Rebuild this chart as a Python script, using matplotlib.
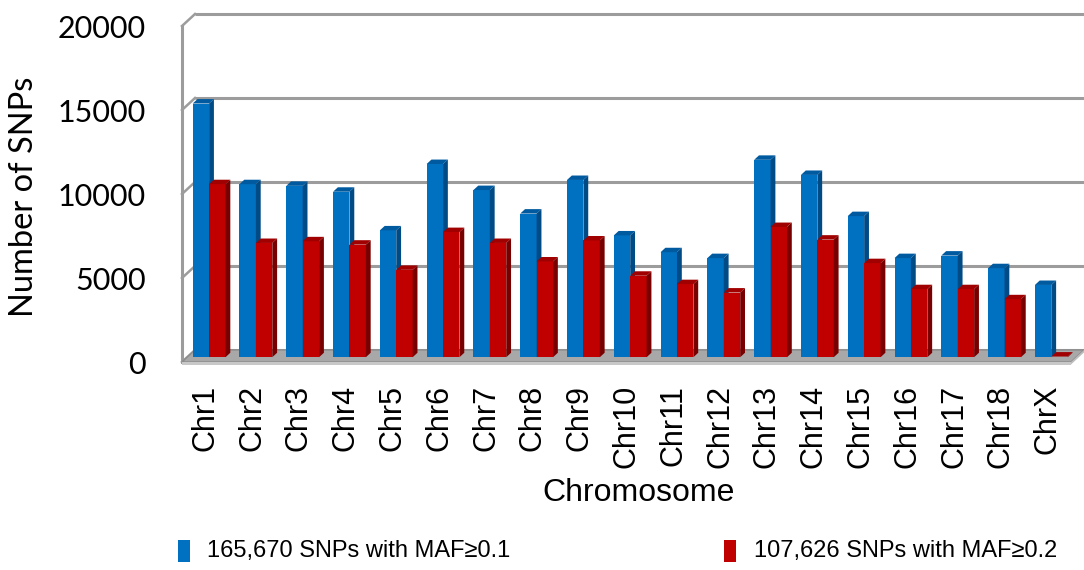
import matplotlib
matplotlib.use("Agg")
import matplotlib.pyplot as plt
from matplotlib.patches import Polygon
from matplotlib import font_manager

categories = ["Chr1", "Chr2", "Chr3", "Chr4", "Chr5", "Chr6", "Chr7", "Chr8", "Chr9",
              "Chr10", "Chr11", "Chr12", "Chr13", "Chr14", "Chr15", "Chr16", "Chr17",
              "Chr18", "ChrX"]
maf01 = [15100, 10300, 10200, 9850, 7550, 11500, 9950, 8550, 10550,
         7250, 6250, 5900, 11750, 10850, 8400, 5900, 6050, 5300, 4300]
maf02 = [10300, 6800, 6900, 6700, 5200, 7450, 6800, 5700, 6950,
         4850, 4350, 3850, 7750, 7000, 5600, 4050, 4050, 3450, 40]
series_labels = ["165,670 SNPs with MAF≥0.1", "107,626 SNPs with MAF≥0.2"]
yticks = [0, 5000, 10000, 15000, 20000]

W, H = 1084, 570
fig = plt.figure(figsize=(W / 100, H / 100), dpi=100)

# front plane geometry (pixels)
x_left, x_right_front, y_zero, y_top = 182, 1071, 362, 13
n = len(categories)
px_per_cat = (x_right_front - x_left) / n
px_per_val = 84 / 5000
ax = fig.add_axes([x_left / W, (H - y_zero) / H, (W - x_left) / W, (y_zero - y_top) / H])
ax.set_xlim(0, (W - x_left) / px_per_cat)
ax.set_ylim(0, (y_zero - y_top) / px_per_val)
for s in ax.spines.values():
    s.set_visible(False)

# depth of wall (full) in data units
DX = 13 / px_per_cat
DY = 12 / px_per_val

grid_c = "#9C9C9C"
# back wall gridlines and side wall diagonals
for v in yticks:
    ax.plot([DX, n + DX], [v + DY, v + DY], color=grid_c, lw=2.2, clip_on=False, zorder=1,
            solid_capstyle="butt")
    ax.plot([0, DX], [v, v + DY], color=grid_c, lw=1.8, clip_on=False, zorder=1)
ax.plot([0, 0], [0, yticks[-1]], color=grid_c, lw=2.2, clip_on=False, zorder=1)

# floor
floor = Polygon([[0, 0], [n, 0], [n + DX, DY], [DX, DY]], closed=True,
                facecolor="#A8A8A8", edgecolor="#8C8C8C", lw=1.0, clip_on=False, zorder=2)
ax.add_patch(floor)
slab_h = 2.5 / px_per_val
ax.add_patch(Polygon([[0, 0], [n, 0], [n, -slab_h], [0, -slab_h]], closed=True,
                     facecolor="#C8C8C8", edgecolor="none", clip_on=False, zorder=2))
ax.add_patch(Polygon([[n, 0], [n + DX, DY], [n + DX, DY - slab_h], [n, -slab_h]], closed=True,
                     facecolor="#BDBDBD", edgecolor="none", clip_on=False, zorder=2))

# bars
d0 = 0.4          # bar front face depth fraction
dd = 0.37         # bar depth fraction
bw = 16.4 / px_per_cat
blue_off = (192.7 - x_left) / px_per_cat
styles = [("#0070C0", "#005AA0", "#004A85"), ("#C00000", "#A00000", "#780000")]
ox, oy = d0 * DX, d0 * DY
bx, by = dd * DX, dd * DY
z = 3
for i in range(n):
    for j, vals in enumerate([maf01, maf02]):
        v = vals[i]
        front, top, side = styles[j]
        x0 = i + blue_off + j * bw
        ax.bar(x0, v, width=bw, bottom=oy, align="edge", color=front, edgecolor="none",
               zorder=z)
        ax.add_patch(Polygon([[x0, oy + v], [x0 + bw, oy + v], [x0 + bw + bx, oy + v + by],
                              [x0 + bx, oy + v + by]], closed=True, facecolor=top,
                             edgecolor="none", zorder=z))
        ax.add_patch(Polygon([[x0 + bw, oy], [x0 + bw, oy + v], [x0 + bw + bx, oy + v + by],
                              [x0 + bw + bx, oy + by]], closed=True, facecolor=side,
                             edgecolor="none", zorder=z))
        z += 1

# ticks
ax.set_yticks(yticks)
ax.set_yticklabels([str(t) for t in yticks], fontfamily="Lato", fontsize=22)
ax.set_xticks([i + 0.5 for i in range(n)])
ax.set_xticklabels(categories, rotation=90, fontfamily="Liberation Sans", fontsize=22)
ax.tick_params(axis="y", length=0, pad=26)
ax.tick_params(axis="x", length=0, pad=16.5)

fig.text(24 / W, 1 - 197 / H, "Number of SNPs", rotation=90, ha="center", va="center",
         fontfamily="Lato", fontsize=23.5)
fig.text(639 / W, 1 - 493 / H, "Chromosome", ha="center", va="center",
         fontfamily="Liberation Sans", fontsize=23)

# legend
avail = {f.name for f in font_manager.fontManager.ttflist}
if "Liberation Sans Narrow" in avail:
    leg_font, leg_size = "Liberation Sans Narrow", 20.5
else:
    leg_font, leg_size = "Liberation Sans", 17
leg_y = 551
for (mx, tx), lab, col in zip([(178, 207), (724, 754)], series_labels,
                             ["#0070C0", "#C00000"]):
    fig.patches.append(plt.Rectangle((mx / W, 1 - (leg_y + 11) / H), 12 / W, 22 / H,
                                     transform=fig.transFigure, facecolor=col,
                                     edgecolor="none"))
    fig.text(tx / W, 1 - leg_y / H, lab, ha="left", va="center",
             fontfamily=[leg_font, "DejaVu Sans"], fontsize=leg_size)

fig.savefig("out.png", dpi=100)
